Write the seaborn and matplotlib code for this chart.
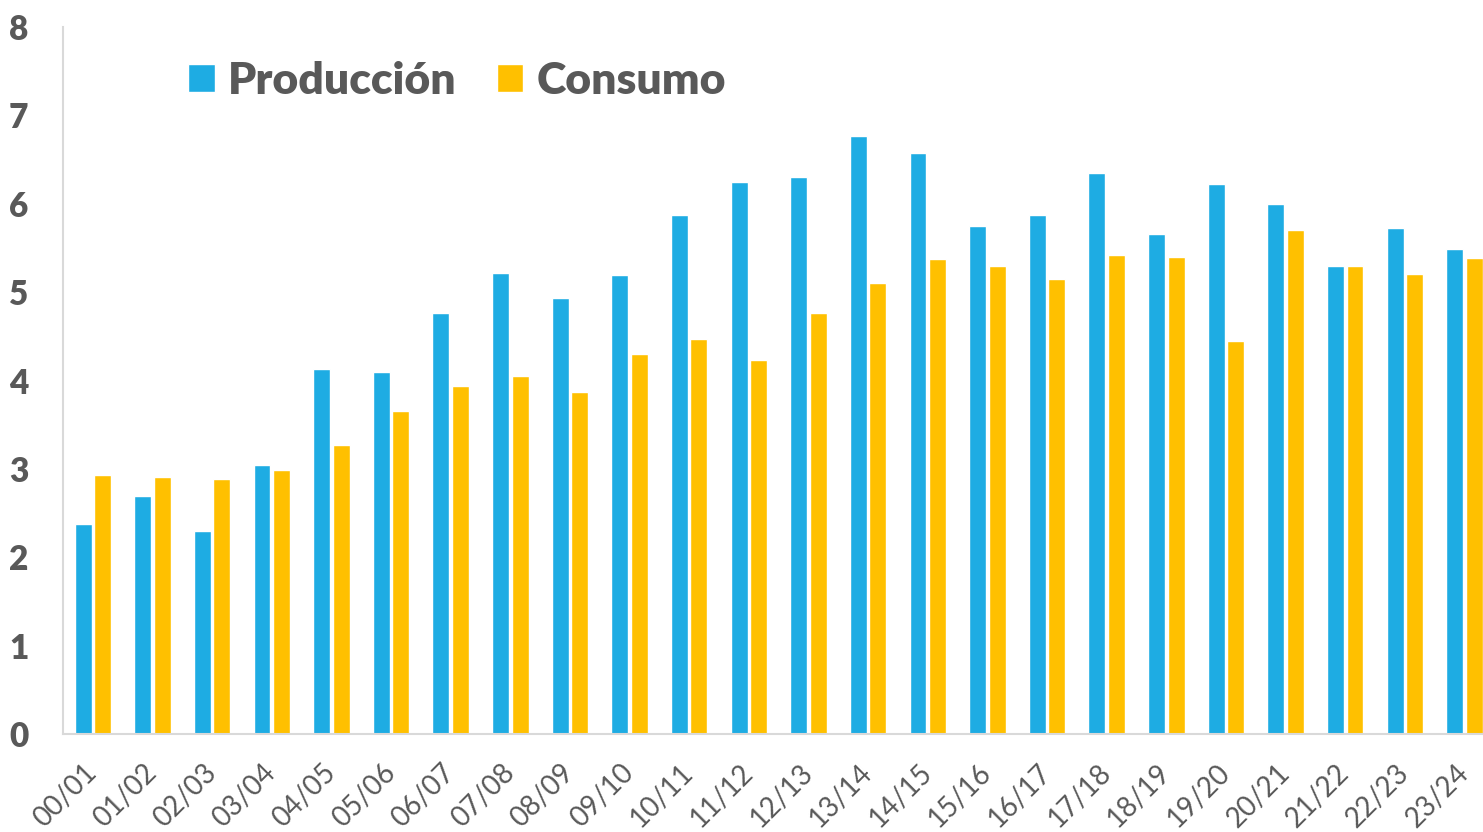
import matplotlib
matplotlib.use("Agg")
import matplotlib.pyplot as plt
import seaborn as sns
import pandas as pd

temporadas = ["00/01", "01/02", "02/03", "03/04", "04/05", "05/06", "06/07", "07/08",
              "08/09", "09/10", "10/11", "11/12", "12/13", "13/14", "14/15", "15/16",
              "16/17", "17/18", "18/19", "19/20", "20/21", "21/22", "22/23", "23/24"]
produccion = [2.38, 2.69, 2.30, 3.04, 4.13, 4.10, 4.76, 5.22, 4.93, 5.19, 5.87, 6.25,
              6.30, 6.77, 6.57, 5.75, 5.87, 6.35, 5.66, 6.22, 6.00, 5.29, 5.72, 5.49]
consumo = [2.93, 2.91, 2.88, 2.99, 3.27, 3.66, 3.94, 4.05, 3.87, 4.30, 4.47, 4.23,
           4.76, 5.10, 5.38, 5.30, 5.15, 5.42, 5.40, 4.45, 5.70, 5.30, 5.20, 5.39]
series = ["Producción", "Consumo"]
colores = ["#1EACE3", "#FFC000"]

TEXT = "#595959"
GRID = "#D9D9D9"

df = pd.DataFrame({
    "temporada": temporadas * 2,
    "valor": produccion + consumo,
    "serie": [series[0]] * len(temporadas) + [series[1]] * len(temporadas),
})

sns.set_style("white")
plt.rcParams["font.family"] = ["Lato", "DejaVu Sans"]

fig = plt.figure(figsize=(14.83, 8.32), dpi=100)
ax = fig.add_axes([63 / 1483, 1 - 734 / 832, 1 - 63 / 1483, (734 - 27) / 832])

sns.barplot(data=df, x="temporada", y="valor", hue="serie", palette=colores,
            width=0.654, gap=0.13, ax=ax, saturation=1, legend=True)

ax.set_ylim(0, 8)
ax.set_xlim(-0.5, 23.31)
ax.set_xlabel("")
ax.set_ylabel("")
ax.set_yticks(range(0, 9))
ax.set_yticklabels([str(v) for v in range(0, 9)], fontsize=24, fontweight="heavy", color=TEXT)
ax.tick_params(axis="y", length=0, pad=25)
ax.tick_params(axis="x", length=0, pad=25)
for lbl in ax.get_xticklabels():
    lbl.set_rotation(45)
    lbl.set_ha("right")
    lbl.set_va("center")
    lbl.set_rotation_mode("anchor")
    lbl.set_fontsize(20)
    lbl.set_color(TEXT)

for side in ["top", "right"]:
    ax.spines[side].set_visible(False)
for side in ["left", "bottom"]:
    ax.spines[side].set_color(GRID)
    ax.spines[side].set_linewidth(1.5)

handles, labels = ax.get_legend_handles_labels()
ax.get_legend().remove()
leg = fig.legend(handles, labels, loc="center left", bbox_to_anchor=(148 / 1483, 1 - 81 / 832),
                 ncol=2, frameon=False, prop={"size": 32, "weight": "heavy"},
                 handlelength=0.6, handleheight=0.6, handletextpad=0.3, columnspacing=0.9)
for t in leg.get_texts():
    t.set_color(TEXT)

fig.savefig("out.png", dpi=100)
